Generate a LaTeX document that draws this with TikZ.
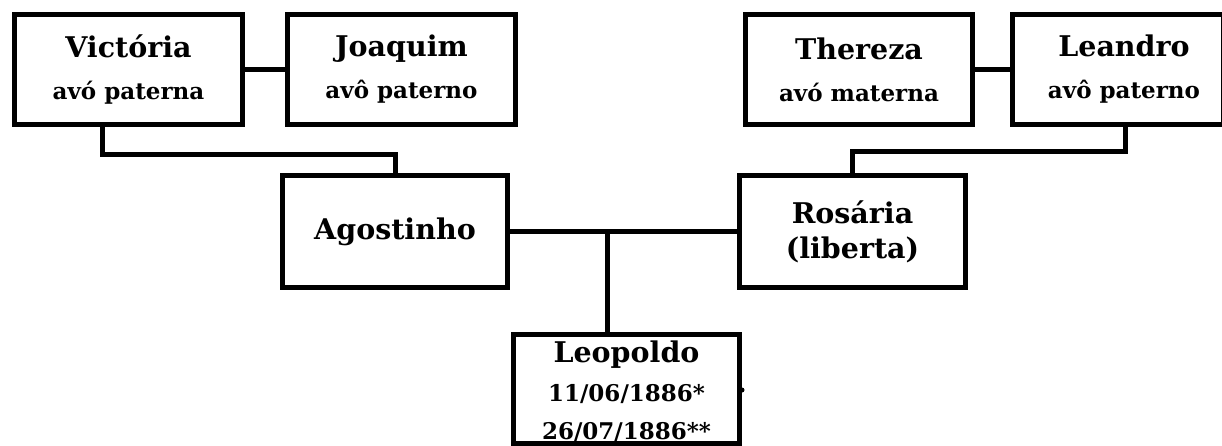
\documentclass[tikz,border=0pt]{standalone}
\usepackage{fontspec}
\setmainfont{DejaVu Serif}
\usetikzlibrary{calc}
\tikzset{
  person/.style={draw=black, line width=5pt, inner sep=0pt, align=center, fill=white,
    font=\bfseries\fontsize{28.5}{42}\selectfont},
  plain/.style={inner sep=0pt, align=center, font=\bfseries\fontsize{28.5}{38.5}\selectfont},
  link/.style={draw=black, line width=5pt, line join=miter},
}
\newcommand{\subline}[1]{{\fontsize{23}{42}\selectfont #1}}
\newcommand{\dateline}[1]{{\fontsize{23}{38}\selectfont #1}}
\begin{document}
\begin{tikzpicture}[x=1pt,y=-1pt]
\useasboundingbox (0,0) rectangle (1222,446);
\fill[white] (0,0) rectangle (1222,446);
\begin{scope}
\clip (0,0) rectangle (1222,446);
% grandparents
\node[person, minimum width=228pt, minimum height=110pt] (V) at (128.5,69.5) {Victória\\\subline{avó paterna}};
\node[person, minimum width=228pt, minimum height=110pt] (J) at (401.5,69.5) {Joaquim\\\subline{avô paterno}};
\node[person, minimum width=227pt, minimum height=110pt] (T) at (859,69.5) {Thereza\\\subline{avó materna}};
\node[person, minimum width=211pt, minimum height=110pt] (L) at (1118,69.5) {\hspace*{12pt}Leandro\\\hspace*{12pt}\subline{avô paterno}};
% parents
\node[person, minimum width=225pt, minimum height=112pt] (A) at (395,231.5) {Agostinho};
\node[person, minimum width=226pt, minimum height=112pt, font=\bfseries\fontsize{28.5}{35}\selectfont] (R) at (852.5,231.5) {Rosária\\(liberta)};
% child
\node[person, minimum width=226pt, minimum height=109pt] (P) at (626.5,389) {};
\node[plain] (Ptext) at (626.5,391.5) {Leopoldo\\\dateline{11/06/1886*}\\\dateline{26/07/1886**}};
% connectors
\coordinate (vd) at (102,155);
\coordinate (ld) at (1125,152);
\coordinate (m) at (607,231.5);
\draw[link] (V.east) -- (J.west);
\draw[link] (T.east) -- (L.west);
\draw[link] (V.south -| vd) -- (vd) -| (A.north);
\draw[link] (L.south -| ld) -- (ld) -| (R.north);
\draw[link] (A.east) -- (R.west);
\draw[link] (m) -- (P.north -| m);
\fill[black] (P.east |- 0,390) circle (2.5pt);
\end{scope}
\end{tikzpicture}
\end{document}
